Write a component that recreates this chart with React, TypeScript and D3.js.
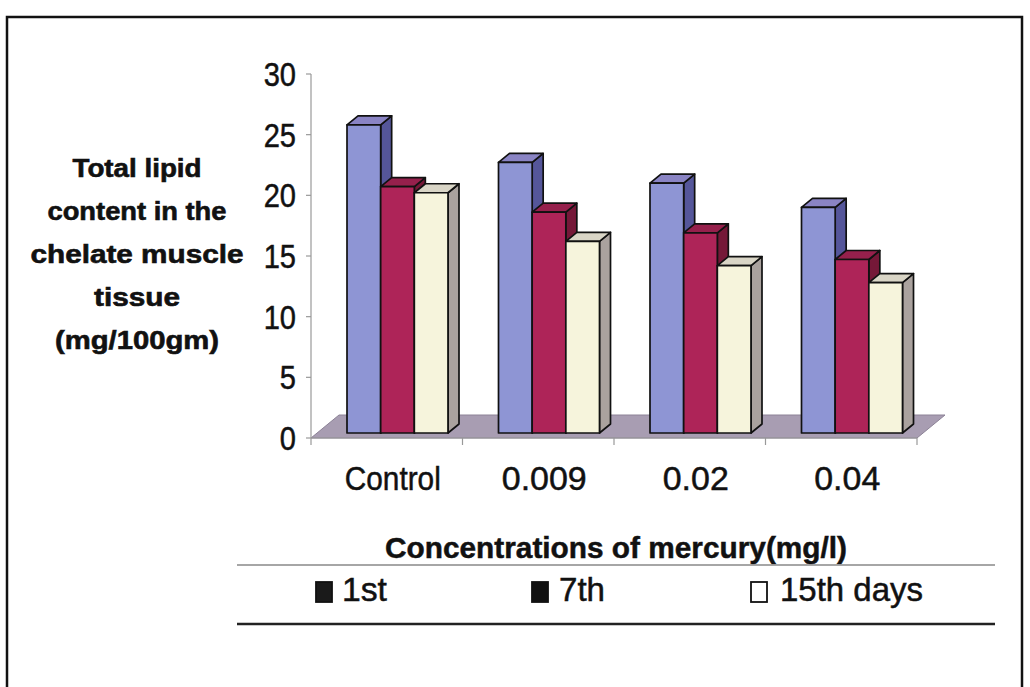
import React from "react";
import * as d3 from "d3";

const categories = ["Control", "0.009", "0.02", "0.04"];
const seriesNames = ["1st", "7th", "15th days"];
const day1 = [25.4, 22.3, 20.6, 18.6];
const day7 = [20.3, 18.2, 16.5, 14.3];
const day15 = [19.8, 15.8, 13.8, 12.4];
const yTicks = [0, 5, 10, 15, 20, 25, 30];
const yTitleLines = ["Total lipid", "content in the", "chelate muscle", "tissue", "(mg/100gm)"];
const xTitle = "Concentrations of mercury(mg/l)";

const series = [day1, day7, day15];
const faceColors = [
  { front: "#8e95d4", side: "#55569a", top: "#8a84c4" },
  { front: "#ae2458", side: "#751838", top: "#96204c" },
  { front: "#f6f4dc", side: "#aaa29e", top: "#d9d5c6" },
];

export default function App() {
  const W = 1030, H = 687;
  const axisX = 311, floorY = 438, topY = 74;
  const plotRight = 917;
  const floorDx = 28, floorDy = -23;
  const barDx = 11, barDy = -9;
  const baseShiftX = 6, baseShiftY = -5;

  const y = d3.scaleLinear().domain([0, 30]).range([floorY, topY]);
  const x = d3.scaleBand<string>().domain(categories).range([axisX, plotRight]).padding(0);
  const inner = d3.scaleBand<number>().domain([0, 1, 2]).range([30, 131]).padding(0);
  const pxPerUnit = (floorY - topY) / 30;

  const bars: JSX.Element[] = [];
  categories.forEach((c, ci) => {
    series.forEach((s, si) => {
      const v = s[ci];
      const bx = (x(c) as number) + (inner(si) as number) + baseShiftX;
      const bw = inner.bandwidth();
      const base = floorY + baseShiftY;
      const yt = base - v * pxPerUnit;
      const col = faceColors[si];
      const side = [
        [bx + bw, yt], [bx + bw + barDx, yt + barDy], [bx + bw + barDx, base + barDy], [bx + bw, base],
      ].map(p => p.join(",")).join(" ");
      const top = [
        [bx, yt], [bx + barDx, yt + barDy], [bx + bw + barDx, yt + barDy], [bx + bw, yt],
      ].map(p => p.join(",")).join(" ");
      bars.push(
        <g key={`${ci}-${si}`} stroke="#111" strokeWidth={1.7} strokeLinejoin="round">
          <polygon points={side} fill={col.side} />
          <polygon points={top} fill={col.top} />
          <rect x={bx} y={yt} width={bw} height={base - yt} fill={col.front} />
        </g>
      );
    });
  });

  const floorPts = [
    [axisX, floorY], [plotRight, floorY], [plotRight + floorDx, floorY + floorDy], [axisX + floorDx, floorY + floorDy],
  ].map(p => p.join(",")).join(" ");

  const narrow = (tx: number, ty: number, sx = 0.84) => `translate(${tx},${ty}) scale(${sx},1)`;

  const catWidths = [96, 85, 66, 66];
  const titleWidths = [129, 179, 213, 86, 164];
  const legendItems = [
    { mx: 316, tx: 342, w: 45, fill: "#1a1a1a" },
    { mx: 532, tx: 559, w: 46, fill: "#111" },
    { mx: 751, tx: 780, w: 143, fill: "#fff" },
  ];

  return (
    <svg width={W} height={H} style={{ position: "absolute", left: 0, top: 0, background: "#fff" }}
      fontFamily="'Liberation Sans', Arial, sans-serif">
      <rect x={7} y={17} width={1015} height={720} fill="#fff" stroke="#111" strokeWidth={2.5} />

      {/* floor */}
      <polygon points={floorPts} fill="#a89db2" stroke="#8c8296" strokeWidth={1} />

      {/* y axis */}
      <line x1={axisX} x2={axisX} y1={topY} y2={floorY} stroke="#999" strokeWidth={1.2} />
      {yTicks.map(t => (
        <g key={t}>
          <line x1={axisX - 5} x2={axisX} y1={y(t)} y2={y(t)} stroke="#999" strokeWidth={1.2} />
          <text transform={narrow(296, y(t) + 12, 0.88)} textAnchor="end" fontSize={33} fill="#111"
            stroke="#111" strokeWidth={0.5}>{t}</text>
        </g>
      ))}

      {/* x axis */}
      <line x1={axisX} x2={plotRight} y1={floorY} y2={floorY} stroke="#999" strokeWidth={1.2} />
      {[...categories.map(c => x(c) as number), plotRight].map((tx, i) => (
        <line key={i} x1={tx} x2={tx} y1={floorY} y2={floorY + 7} stroke="#999" strokeWidth={1.2} />
      ))}
      {categories.map((c, i) => (
        <text key={c} x={(x(c) as number) + x.bandwidth() / 2 + 6} y={490} textAnchor="middle"
          fontSize={34} fill="#111" stroke="#111" strokeWidth={0.5}
          textLength={catWidths[i]} lengthAdjust="spacingAndGlyphs">{c}</text>
      ))}

      {bars}

      {/* y title */}
      {yTitleLines.map((l, i) => (
        <text key={l} x={137} y={177 + i * 43} textAnchor="middle" fontSize={25} fontWeight="bold" fill="#111"
          stroke="#111" strokeWidth={0.6}
          textLength={titleWidths[i]} lengthAdjust="spacingAndGlyphs">{l}</text>
      ))}

      {/* x title */}
      <text x={616} y={558} textAnchor="middle" fontSize={30} fontWeight="bold" fill="#111"
        stroke="#111" strokeWidth={0.5}
        textLength={462} lengthAdjust="spacingAndGlyphs">{xTitle}</text>

      {/* legend */}
      <line x1={237} x2={995} y1={565} y2={565} stroke="#888" strokeWidth={1.5} />
      <line x1={237} x2={995} y1={624} y2={624} stroke="#222" strokeWidth={2.5} />
      {legendItems.map((it, i) => (
        <g key={i}>
          <rect x={it.mx} y={582} width={16} height={20} fill={it.fill} stroke="#111" strokeWidth={1.8} />
          <text x={it.tx} y={601} fontSize={33} fill="#111" stroke="#111" strokeWidth={0.5}
            textLength={it.w} lengthAdjust="spacingAndGlyphs">{seriesNames[i]}</text>
        </g>
      ))}
    </svg>
  );
}
